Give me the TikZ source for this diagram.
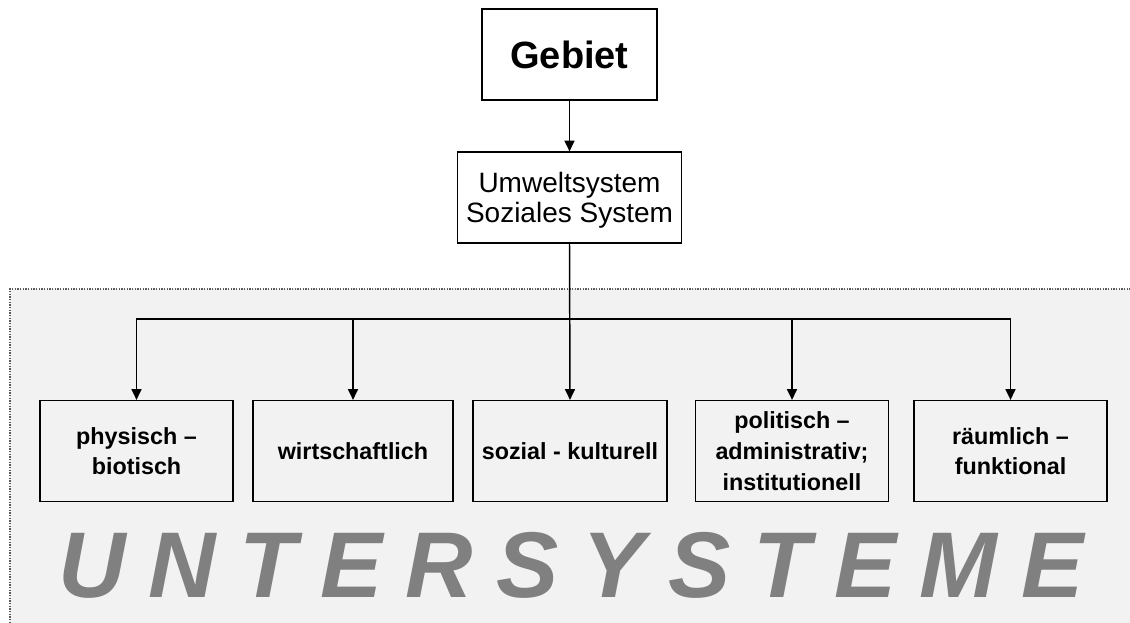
\documentclass[tikz,border=0pt]{standalone}
\usepackage{fontspec}
\setmainfont{Liberation Sans}
\usetikzlibrary{arrows.meta}
\definecolor{bgfill}{HTML}{F2F2F2}
\definecolor{bigtext}{HTML}{808080}
\tikzset{
  box/.style={draw=black, line width=1.2pt, fill=white, inner sep=2pt, align=center},
  subbox/.style={draw=black, line width=1.2pt, fill=bgfill, inner sep=2pt, align=center,
    minimum height=75.5pt, font=\fontsize{17.5}{23}\selectfont\bfseries},
  arr/.style={line width=1.1pt, -{Triangle[width=7.5pt,length=8pt]}}
}
\begin{document}
\begin{tikzpicture}[x=0.75pt,y=-0.75pt]
\useasboundingbox (0,0) rectangle (1130,623);
\fill[white] (0,0) rectangle (1130,623);
% background region
\fill[bgfill] (10,289) rectangle (1130,623);
\draw[gray!70!black, line width=1pt, densely dotted] (10,623) -- (10,289) -- (1130,289);
% top boxes
\node[box, minimum width=131pt, minimum height=68.5pt, text height=27pt, text depth=6pt,
  font=\fontsize{28.5}{34}\selectfont\bfseries] (geb) at (569.5,54.5) {Gebiet};
\node[box, minimum width=168pt, minimum height=68pt, font=\fontsize{21}{22.5}\selectfont] (umw) at (569.5,197.5)
  {\rule{0pt}{19pt}Umweltsystem\\Soziales System};
% sub boxes
\node[subbox, minimum width=145pt] (b1) at (136.5,451) {physisch --\\biotisch};
\node[subbox, minimum width=150pt] (b2) at (353,451) {wirtschaftlich};
\node[subbox, minimum width=145.5pt] (b3) at (570,451) {sozial - kulturell};
\node[subbox, minimum width=144.5pt] (b4) at (792,451) {politisch --\\administrativ;\\institutionell};
\node[subbox, minimum width=144.5pt] (b5) at (1010.5,451) {räumlich --\\funktional};
% connectors
\draw[arr] (geb.south) -- (umw.north);
\coordinate (j) at (569.5,319);
\draw[arr] (umw.south) -- (b3.north);
\draw[arr] (j) -| (b1.north);
\draw[arr] (j) -| (b2.north);
\draw[arr] (j) -| (b4.north);
\draw[arr] (j) -| (b5.north);
% big label
\node[anchor=base west, inner sep=0pt, text=bigtext,
  font=\fontsize{70}{70}\selectfont\bfseries\itshape\addfontfeature{LetterSpace=25.1}] (ut) at (58,597) {UNTERSYSTEME};
\end{tikzpicture}
\end{document}
